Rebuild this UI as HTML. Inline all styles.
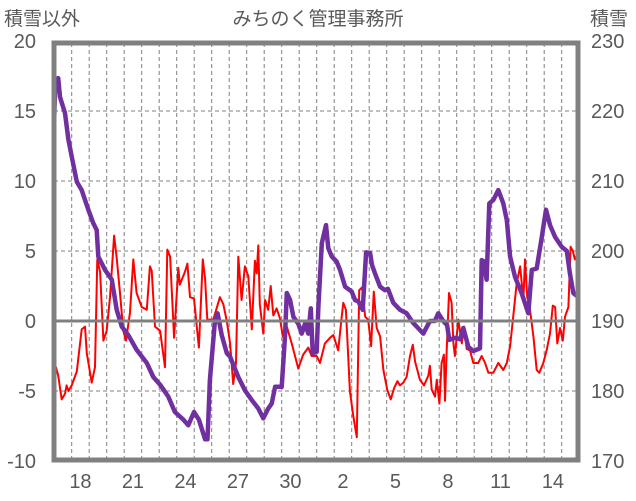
<!DOCTYPE html>
<html><head><meta charset="utf-8">
<style>
body{margin:0;background:#fff;}
svg{display:block;font-family:"Liberation Sans","Noto Sans CJK JP",sans-serif;}
</style></head>
<body>
<svg id="chart" width="636" height="501" viewBox="0 0 636 501" xmlns="http://www.w3.org/2000/svg">
<rect width="636" height="501" fill="#fff"/>
<text x="318" y="25" text-anchor="middle" font-size="19" fill="#595959">みちのく管理事務所</text>
<text x="4" y="25" font-size="19" fill="#595959">積雪以外</text>
<text x="590" y="25" font-size="19" fill="#595959">積雪</text>
<defs><clipPath id="pc"><rect x="54" y="43" width="524" height="417"/></clipPath></defs>
<g id="grid"></g>
<g id="series" clip-path="url(#pc)"></g>
<g id="axes"></g>
</svg>
<script>
const leftTicks=[20,15,10,5,0,-5,-10];
const rightTicks=[230,220,210,200,190,180,170];
const xLabels=['18','21','24','27','30','2','5','8','11','14'];
const xLabelDays=[1,4,7,10,13,16,19,22,25,28];
const nDays=30;
const redT=[0,0.1,0.23,0.43,0.62,0.71,0.81,1.0,1.29,1.57,1.76,1.86,2.14,2.33,2.46,2.62,2.81,3.0,3.19,3.42,3.57,3.76,3.95,4.10,4.33,4.52,4.71,5.0,5.29,5.47,5.57,5.76,6.05,6.33,6.46,6.62,6.85,7.09,7.18,7.47,7.61,7.76,7.99,8.27,8.49,8.62,8.75,9.09,9.47,9.66,9.86,10.05,10.23,10.39,10.52,10.71,10.90,11.09,11.29,11.47,11.57,11.66,11.75,11.95,12.05,12.23,12.37,12.52,12.71,12.90,13.06,13.29,13.57,13.95,14.23,14.52,14.71,15.0,15.19,15.47,15.76,15.95,16.23,16.43,16.52,16.67,16.9,17.09,17.29,17.43,17.59,17.77,17.94,18.11,18.26,18.43,18.62,18.81,19.03,19.23,19.42,19.61,19.76,19.95,20.14,20.33,20.49,20.62,20.90,21.13,21.38,21.47,21.57,21.76,21.86,22.01,22.14,22.27,22.33,22.43,22.56,22.71,22.81,22.9,23.09,23.29,23.42,23.57,23.76,23.95,24.23,24.43,24.62,24.81,25.09,25.38,25.66,25.86,26.05,26.23,26.43,26.62,26.81,26.90,27.03,27.19,27.38,27.57,27.72,27.95,28.14,28.33,28.49,28.62,28.75,28.9,29.06,29.19,29.38,29.51,29.64,29.75,29.94];
const redV=[-3.6,-3.3,-3.9,-5.6,-5.2,-4.6,-5.0,-4.6,-3.6,-0.6,-0.4,-2.3,-4.4,-3.3,4.4,3.5,-1.4,-0.7,1.7,6.1,4.5,2.0,-0.7,-1.4,0.6,4.4,2.0,1.0,0.8,3.9,3.6,-0.4,-0.7,-3.3,5.1,4.6,-1.2,3.8,2.6,3.5,4.1,1.7,1.6,-1.9,4.4,3.0,0.1,0.1,1.7,1.2,0,-1.6,-4.5,-3.0,4.6,1.5,3.9,3.2,-0.6,4.3,3.4,5.4,1.2,-0.9,1.5,0.8,2.5,0.4,0.9,0.2,-1.1,-0.4,-1.6,-3.4,-2.4,-1.9,-2.5,-2.5,-3.0,-1.6,-1.2,-1.0,-2.1,0.3,1.3,0.8,-5.0,-6.8,-8.3,2.2,2.4,0.3,0.1,-1.8,2.1,-0.5,-1.1,-3.5,-4.9,-5.6,-4.8,-4.3,-4.6,-4.4,-4.0,-2.5,-1.7,-2.9,-4.2,-4.6,-3.9,-3.2,-4.9,-5.4,-4.2,-5.9,-3.0,-2.4,-5.7,-2.1,2.0,1.3,-1.6,-2.5,0.1,-1.6,-0.4,-2.0,-2.1,-3.0,-3.0,-2.5,-3.0,-3.7,-3.7,-3.0,-3.5,-3.0,-1.8,0.3,2.7,3.9,1.5,4.4,1.8,0.8,-1.1,-3.5,-3.7,-3.0,-2.1,-0.9,1.1,1.0,-1.6,-0.5,-1.4,0.3,1.0,5.3,5.0,4.4,4.9];
const snowT=[0,0.05,0.23,0.33,0.62,0.81,1.0,1.29,1.57,1.95,2.23,2.43,2.52,2.90,3.29,3.57,3.86,4.23,4.71,5.29,5.66,6.05,6.52,6.90,7.38,7.66,7.99,8.27,8.62,8.76,8.9,9.19,9.34,9.57,9.86,10.05,10.52,10.9,11.29,11.66,11.95,12.23,12.43,12.62,13.0,13.19,13.29,13.48,13.67,13.95,14.14,14.33,14.52,14.66,14.77,15.0,15.09,15.29,15.53,15.66,15.86,16.14,16.33,16.62,17.0,17.19,17.38,17.63,17.82,18.05,18.16,18.33,18.62,18.9,19.07,19.38,19.76,20.14,20.52,20.79,21.09,21.47,21.75,21.95,22.23,22.45,22.58,22.9,23.19,23.38,23.67,23.95,24.33,24.43,24.56,24.71,24.86,25.1,25.38,25.66,25.86,26.05,26.33,26.71,27.09,27.29,27.57,27.86,28.10,28.33,28.62,29.0,29.29,29.47,29.66,29.95];
const snowV=[218.7,223.5,224.7,222,219.7,215.9,213.5,209.9,208.7,205.9,204.0,203,199.2,197.3,195.9,191.6,189.2,188,185.9,184,182,180.9,179.2,177,175.9,175.1,177,175.9,173.1,173.1,181.6,190.1,191.1,188,185.4,184.9,182,180.1,178.7,177.5,176.1,177.5,178.2,180.6,180.6,187.8,194,193,190.6,189.6,188.2,189.6,188.2,191.8,185.4,185.6,191.8,201.1,203.7,200.4,199.2,198.5,197.3,194.9,194.2,193,192.8,191.6,199.8,199.7,198,196.8,194.9,194.4,194.6,192.6,191.6,191.1,189.7,189.0,188.2,190,190,191.1,190,189.4,187.3,187.6,187.4,189,186.3,185.7,186.1,198.7,198.5,195.9,206.8,207.3,208.7,206.8,204.4,199.2,196.3,194,191.1,197.3,197.5,202,205.9,203.7,202,200.6,200.0,196.8,194,193.4];

const NS='http://www.w3.org/2000/svg';
const X0=54.2,DX=17.5;
function xs(t){return X0+t*DX;}
function yl(v){return 321-14*v;}
function yr(v){return 321-7*(v-190);}
function mk(tag,attrs,parent){const e=document.createElementNS(NS,tag);for(const k in attrs)e.setAttribute(k,attrs[k]);parent.appendChild(e);return e;}
const grid=document.getElementById('grid'),axes=document.getElementById('axes'),series=document.getElementById('series');
for(let d=1;d<nDays;d++){
  const l=mk('line',{x1:xs(d),x2:xs(d),y1:43,y2:460,stroke:'#808080','stroke-width':1,'stroke-dasharray':'4,3'},grid);
  
  
}
leftTicks.forEach((v,i)=>{
  if(v!==0&&v!==20&&v!==-10){
    const l=mk('line',{x1:54,x2:578,y1:yl(v),y2:yl(v),stroke:'#808080','stroke-width':1,'stroke-dasharray':'4,3'},grid);
    
    
  }
  const t=mk('text',{x:36,y:yl(v)+7,'text-anchor':'end','font-size':20,fill:'#595959'},axes);
  t.textContent=v;
  
  
});
rightTicks.forEach(v=>{
  const t=mk('text',{x:591,y:yr(v)+7,'font-size':20,fill:'#595959'},axes);
  t.textContent=v;
  
  
});
xLabels.forEach((s,i)=>{
  const t=mk('text',{x:xs(xLabelDays[i]+0.5),y:488,'text-anchor':'middle','font-size':20,fill:'#595959'},axes);
  t.textContent=s;
  
  
});
const zl=mk('line',{x1:54,x2:578,y1:yl(0),y2:yl(0),stroke:'#808080','stroke-width':3},axes);


const fr=mk('rect',{x:54,y:43,width:524,height:417,fill:'none',stroke:'#808080','stroke-width':5},axes);


const rp=mk('polyline',{points:redT.map((t,i)=>xs(t).toFixed(1)+','+yl(redV[i]).toFixed(1)).join(' '),fill:'none',stroke:'#FF0000','stroke-width':2,'stroke-linejoin':'round'},series);


const sp=mk('polyline',{points:snowT.map((t,i)=>xs(t).toFixed(1)+','+yr(snowV[i]).toFixed(1)).join(' '),fill:'none',stroke:'#7030A0','stroke-width':4.5,'stroke-linejoin':'round'},series);


</script>
</body></html>
